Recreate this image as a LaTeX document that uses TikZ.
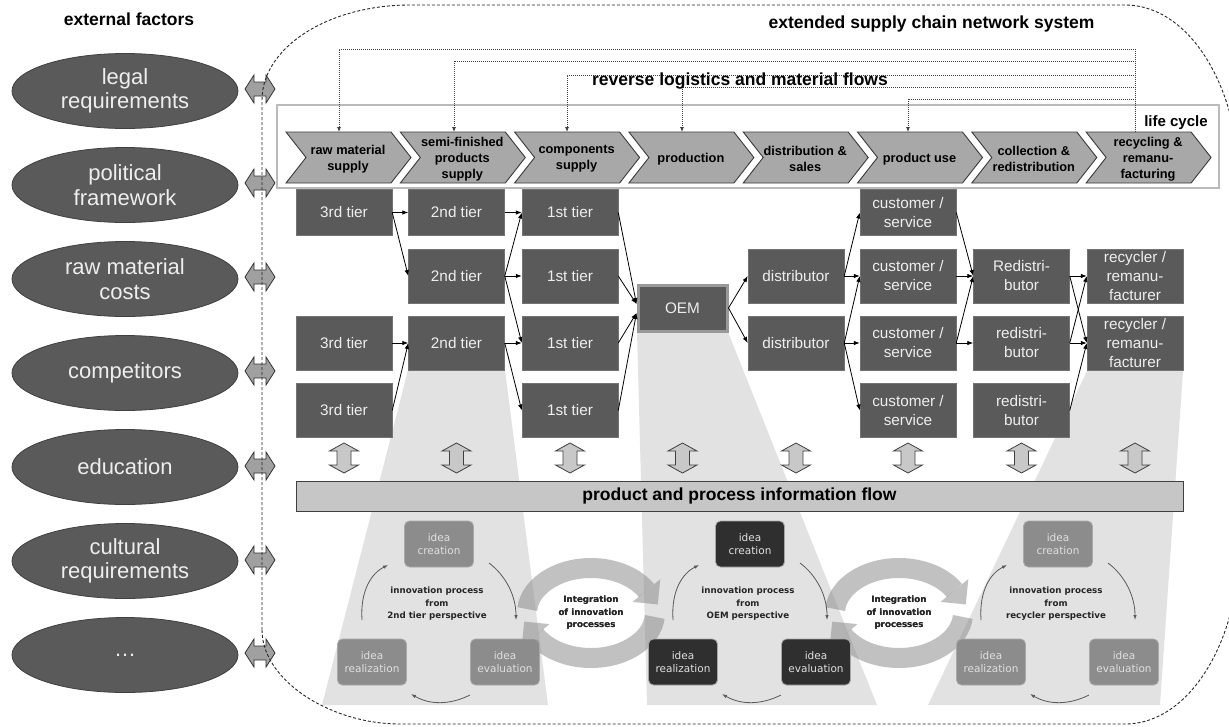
\documentclass[tikz,border=0pt]{standalone}
\usepackage{fontspec}
\setmainfont{Liberation Sans}
\newfontfamily\dejavu{DejaVu Sans}
\usetikzlibrary{shapes.geometric,arrows.meta,calc}

\definecolor{darkbox}{HTML}{5A5A5A}
\definecolor{lighttext}{HTML}{EEEEEE}
\definecolor{chevfill}{HTML}{A8A8A8}
\definecolor{chevline}{HTML}{3A3A3A}
\definecolor{fanfill}{HTML}{E2E2E2}
\definecolor{barfill}{HTML}{C6C6C6}
\definecolor{arrowfill}{HTML}{A0A0A0}
\definecolor{varrowfill}{HTML}{C8C8C8}
\definecolor{ideafill}{HTML}{8C8C8C}
\definecolor{ideadark}{HTML}{2F2F2F}
\definecolor{ringgray}{HTML}{8E8E8E}

\newcommand{\fsz}[2]{\fontsize{#1}{#2}\selectfont}

% one life-cycle phase: left x, node name, label
\newcommand{\phase}[3]{%
  \path[chevron] (#1,132) -- ++(105,0) -- ++(20,25.5) -- ++(-20,25.5)
     -- ++(-105,0) -- ++(20,-25.5) -- cycle;
  \node[phaselabel] (#2) at (#1+62,159) {#3};}

% two circular arrows around an integration label
\newcommand{\integration}[1]{%
  \begin{scope}[shift={(#1.center)}]
    \draw[ring] (185:64 and 45) arc[start angle=185, end angle=330, x radius=64, y radius=45];
    \fill[ringhead] (69.3,-33.9) -- (66.8,-8.6) -- (41.5,-11.1) -- cycle;
    \draw[ring] (5:64 and 45) arc[start angle=5, end angle=150, x radius=64, y radius=45];
    \fill[ringhead] (-69.3,33.9) -- (-66.8,8.6) -- (-41.5,11.1) -- cycle;
  \end{scope}}

% one innovation cycle: creation x, box style, name prefix, perspective
\newcommand{\ideacycle}[4]{%
  \node[#2] (#3c) at (#1,544) {idea\\creation};
  \node[#2] (#3r) at (#1-67,662) {idea\\realization};
  \node[#2] (#3e) at (#1+66,662) {idea\\evaluation};
  \node[cycletext] (#3t) at (#1-2,604) {innovation process\\from\\#4};
  \draw[cyclearrow, shift={(#3c.center)}] (-77,76) .. controls (-79,46) and (-67,29) .. (-51,21);
  \draw[cyclearrow, shift={(#3c.center)}] (50,19) .. controls (66,31) and (77,51) .. (77,76);
  \draw[cyclearrow, shift={(#3c.center)}] (31,151) .. controls (11,161) and (-9,161) .. (-28,150);}

\begin{document}
\begin{tikzpicture}[x=1pt,y=-1pt,
  factor/.style={ellipse, draw=black!75, line width=0.8pt, fill=darkbox,
    minimum width=226pt, minimum height=75pt, inner sep=0pt, align=center,
    text=lighttext, font=\fsz{22}{24.5}},
  tier/.style={rectangle, fill=darkbox, draw=darkbox!85!white, line width=0.5pt,
    minimum width=96pt, minimum height=54pt, inner sep=0pt, align=center,
    text=lighttext, font=\fsz{15.3}{19}},
  toprow/.style={minimum height=46pt},
  chevron/.style={fill=chevfill, draw=chevline, line width=0.9pt},
  phaselabel/.style={inner sep=0pt, align=center, font=\bfseries\fsz{12.8}{16}},
  conn/.style={-{Latex[length=6pt,width=4.5pt]}, line width=0.8pt},
  revflow/.style={draw=black!75, line width=0.8pt, dash pattern=on 1pt off 1pt,
    -{Latex[length=5pt,width=4pt]}},
  heading/.style={inner sep=0pt, anchor=base, font=\bfseries\fsz{17.5}{20}},
  hdarrow/.style={fill=arrowfill, draw=black!80, line width=0.8pt},
  vdarrow/.style={fill=varrowfill, draw=black!75, line width=0.8pt},
  fan/.style={fill=fanfill},
  ring/.style={draw=ringgray, draw opacity=0.55, line width=20pt},
  ringhead/.style={fill=ringgray, fill opacity=0.55},
  idea/.style={rectangle, rounded corners=5pt, fill=ideafill, draw=ideafill!75!white,
    line width=0.8pt, minimum width=69pt, minimum height=46pt, inner sep=0pt,
    align=center, text=white!88!black, font=\dejavu\fsz{10.5}{13}},
  ideaoem/.style={idea, fill=ideadark, draw=black!35},
  cycletext/.style={inner sep=0pt, align=center, text=black!85,
    font=\dejavu\bfseries\fsz{8.7}{12.5}},
  cyclearrow/.style={draw=black!65, line width=0.8pt, -{Latex[length=5pt,width=3.5pt]}},
  boundary/.style={draw=black!85, line width=0.9pt, dash pattern=on 3pt off 2pt},
  hdouble/.pic={\path[hdarrow] (-15,0) -- (-6,-14) -- (-6,-7) -- (6,-7) -- (6,-14)
    -- (15,0) -- (6,14) -- (6,7) -- (-6,7) -- (-6,14) -- cycle;},
  vdouble/.pic={\path[vdarrow] (0,-15) -- (-14.5,-7) -- (-7,-7) -- (-7,7) -- (-14.5,7)
    -- (0,15) -- (14.5,7) -- (7,7) -- (7,-7) -- (14.5,-7) -- cycle;},
]
\useasboundingbox (0,0) rectangle (1229,726);
\clip (0,0) rectangle (1229,726);

% light fans from the focal companies down to their innovation processes
\path[fan] (408,370) -- (505,370) -- (548,705) -- (322,705) -- cycle;
\path[fan] (637,332) -- (728,332) -- (877,705) -- (647,705) -- cycle;
\path[fan] (1087,371) -- (1183,371) -- (1160,705) -- (928,705) -- cycle;

% integration of innovation processes
\node[cycletext] (int1) at (591,613) {Integration\\of innovation\\processes};
\node[cycletext] (int2) at (899,613) {Integration\\of innovation\\processes};
\integration{int1}
\integration{int2}
\node[cycletext] at (int1) {Integration\\of innovation\\processes};
\node[cycletext] at (int2) {Integration\\of innovation\\processes};

% innovation cycles
\ideacycle{439}{idea}{a}{2nd tier perspective}
\ideacycle{750}{ideaoem}{b}{OEM perspective}
\ideacycle{1058}{idea}{c}{recycler perspective}

% information flow bar and exchange arrows
\node[fill=barfill, draw=black!75, line width=0.8pt, minimum width=887pt,
  minimum height=30pt, inner sep=0pt, font=\bfseries\fsz{17.5}{20}] (info) at (739.5,496)
  {product and process information flow};
\foreach \ax in {344,456.5,570,682.5,796,908,1021.5,1135}
  \pic at (\ax,458) {vdouble};

% life cycle frame and phases
\draw[black!27, line width=2pt] (277,105) rectangle (1219,188);
\node[heading, font=\bfseries\fsz{15}{18}] (lc) at (1176,126) {life cycle};
\phase{286}{ph1}{raw material\\supply}
\phase{400.3}{ph2}{semi-finished\\products\\supply}
\phase{514.6}{ph3}{components\\supply}
\phase{628.9}{ph4}{production}
\phase{743.2}{ph5}{distribution \&\\sales}
\phase{857.5}{ph6}{product use}
\phase{971.8}{ph7}{collection \&\\redistribution}
\phase{1086.1}{ph8}{recycling \&\\remanu-\\facturing}

% reverse logistics and material flows
\coordinate (src) at (1135,132);
\coordinate (in1) at (339,132);
\coordinate (in2) at (454,132);
\coordinate (in3) at (567,132);
\coordinate (in4) at (682,132);
\coordinate (in6) at (908,132);
\draw[revflow] (src) |- ($(in1)+(0,-83)$) -- (in1);
\draw[revflow] (src) |- ($(in2)+(0,-71)$) -- (in2);
\draw[revflow] (src) |- ($(in3)+(0,-57)$) -- (in3);
\draw[revflow] (src) |- ($(in4)+(0,-45)$) -- (in4);
\draw[revflow] (src) |- ($(in6)+(0,-33)$) -- (in6);
\node[heading] (rl) at (740,85) {reverse logistics and material flows};
\node[heading] (sys) at (931.5,28) {extended supply chain network system};

% supply chain network
\node[tier, toprow] (t3a) at (344,212.5) {3rd tier};
\node[tier] (t3b) at (344,343) {3rd tier};
\node[tier] (t3c) at (344,410.5) {3rd tier};
\node[tier, toprow] (t2a) at (456.5,212.5) {2nd tier};
\node[tier] (t2b) at (456.5,276) {2nd tier};
\node[tier] (t2c) at (456.5,343) {2nd tier};
\node[tier, toprow] (t1a) at (570,212.5) {1st tier};
\node[tier] (t1b) at (570,276) {1st tier};
\node[tier] (t1c) at (570,343) {1st tier};
\node[tier] (t1d) at (570,410.5) {1st tier};
\node[tier, draw=black!40, line width=3pt, minimum width=89pt, minimum height=46pt] (oem) at (682.5,308) {OEM};
\node[tier] (d1) at (796,276) {distributor};
\node[tier] (d2) at (796,343) {distributor};
\node[tier, toprow] (c1) at (908,212.5) {customer /\\service};
\node[tier] (c2) at (908,276) {customer /\\service};
\node[tier] (c3) at (908,343) {customer /\\service};
\node[tier] (c4) at (908,410.5) {customer /\\service};
\node[tier] (rd1) at (1021.5,276) {Redistri-\\butor};
\node[tier] (rd2) at (1021.5,343) {redistri-\\butor};
\node[tier] (rd3) at (1021.5,410.5) {redistri-\\butor};
\node[tier] (rc1) at (1135,276) {recycler /\\remanu-\\facturer};
\node[tier] (rc2) at (1135,343) {recycler /\\remanu-\\facturer};

\coordinate (oemup) at ($(oem.west)+(0,-4)$);
\coordinate (oemlo) at ($(oem.west)+(0,5)$);
\foreach \a/\b in {t3a/t2a, t3a/t2b, t3b/t2c, t3c/t2c,
  t2a/t1a, t2b/t1a, t2b/t1b, t2b/t1c, t2c/t1c, t2c/t1d,
  oem/d1, oem/d2, d1/c1, d1/c2, d2/c2, d2/c3, d2/c4,
  c1/rd1, c2/rd1, c3/rd1, c3/rd2,
  rd1/rc1, rd1/rc2, rd2/rc1, rd2/rc2, rd3/rc2}
  \draw[conn] (\a.east) -- (\b.west);
\draw[conn] (t1a.east) -- (oemup);
\draw[conn] (t1b.east) -- (oemup);
\draw[conn] (t1c.east) -- (oemlo);
\draw[conn] (t1d.east) -- (oemlo);

% external factors
\node[heading] (ext) at (129,25) {external factors};
\node[factor] (f1) at (125,91) {legal\\requirements};
\node[factor] (f2) at (125,185) {political\\framework};
\node[factor] (f3) at (125,279) {raw material\\costs};
\node[factor] (f4) at (125,373) {competitors};
\node[factor] (f5) at (125,467) {education};
\node[factor] (f6) at (125,561) {cultural\\requirements};
\node[factor] (f7) at (125,655) {…};
\foreach \fy in {89,183,277,371,466,560,653}
  \pic at (260,\fy) {hdouble};

% boundary of the extended supply chain network system
\draw[boundary] (262,630) -- (262,100) .. controls (262,47.5) and (328,5) .. (410,5)
  -- (1125,5) .. controls (1190,5) and (1240,88) .. (1240,190)
  -- (1240,540) .. controls (1240,640) and (1190,724) .. (1125,724)
  -- (400,724) .. controls (330,724) and (262,680) .. (262,630) -- cycle;
\end{tikzpicture}
\end{document}
